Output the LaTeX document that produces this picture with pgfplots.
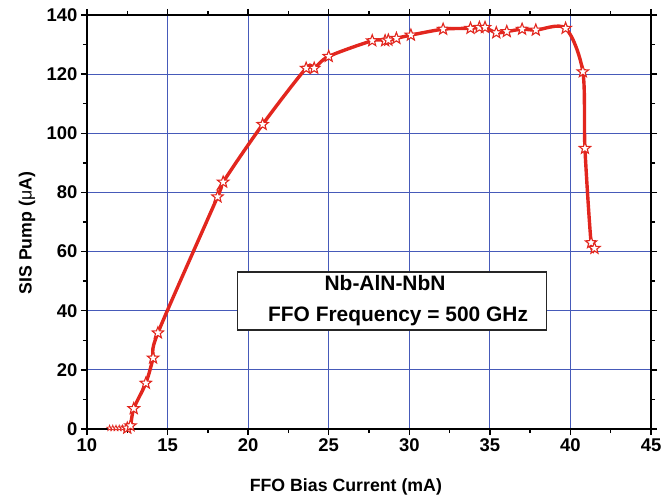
\documentclass[border=0pt]{standalone}
\usepackage{fontspec}
\setmainfont{Liberation Sans}
\usepackage{pgfplots}
\pgfplotsset{compat=1.18}
\definecolor{gridblue}{RGB}{70,90,185}
\definecolor{curvered}{RGB}{226,38,30}
\pgfdeclareplotmark{ostar}{%
  \pgfpathmoveto{\pgfpointpolar{90}{\pgfplotmarksize}}%
  \pgfpathlineto{\pgfpointpolar{126}{0.42*\pgfplotmarksize}}%
  \pgfpathlineto{\pgfpointpolar{162}{\pgfplotmarksize}}%
  \pgfpathlineto{\pgfpointpolar{198}{0.42*\pgfplotmarksize}}%
  \pgfpathlineto{\pgfpointpolar{234}{\pgfplotmarksize}}%
  \pgfpathlineto{\pgfpointpolar{270}{0.42*\pgfplotmarksize}}%
  \pgfpathlineto{\pgfpointpolar{306}{\pgfplotmarksize}}%
  \pgfpathlineto{\pgfpointpolar{342}{0.42*\pgfplotmarksize}}%
  \pgfpathlineto{\pgfpointpolar{18}{\pgfplotmarksize}}%
  \pgfpathlineto{\pgfpointpolar{54}{0.42*\pgfplotmarksize}}%
  \pgfpathclose
  \pgfusepathqfillstroke}
\pgfplotstableread{
x y
12.5 0.3
12.7 1.1
12.9 6.9
13.65 15.5
14.1 24
14.4 32.5
18.1 78.5
18.45 83.5
20.9 103
23.6 122
24.1 122
25.0 126
27.7 131.3
28.5 131.3
28.7 131.5
29.2 132.1
30.1 133.2
32.1 135.2
33.8 135.5
34.35 135.8
34.7 135.8
35.4 134
36.05 134.4
37.0 135.2
37.85 134.9
39.7 135.5
40.77 120.8
40.9 94.9
41.28 63
41.49 61.1
}\maintable
\pgfplotstableread{
x y
11.4 0.3
11.6 0.3
11.8 0.3
12.0 0.3
12.2 0.3
12.4 0.3
}\basetable
\begin{document}
\begin{tikzpicture}
\path[use as bounding box] (0,0) rectangle (662bp,504bp);
\begin{axis}[
  at={(87bp,75bp)}, anchor=south west,
  scale only axis, width=564bp, height=414bp,
  xmin=10, xmax=45, ymin=0, ymax=140,
  xtick distance=5, ytick distance=20,
  minor x tick num=1, minor y tick num=1,
  tick align=outside,
  major tick length=6bp, minor tick length=4bp,
  every tick/.style={black, line width=1.3bp},
  axis line style={black, line width=1.6bp},
  grid=major,
  major grid style={gridblue, line width=1bp},
  /pgf/number format/assume math mode=true,
  tick label style={font=\fontsize{18.5}{20}\selectfont\bfseries},
  label style={font=\fontsize{17.8}{20}\selectfont\bfseries},
  xlabel={FFO Bias Current (mA)},
  ylabel={SIS Pump ({\mdseries μ}A)},
  xlabel style={at={(axis description cs:0.459,-0.14)}, anchor=center},
  ylabel style={at={(axis description cs:-0.1064,0.473)}, anchor=center},
]
\addplot[curvered, line width=1.2bp, mark=ostar, mark size=3bp,
  mark options={fill=white, draw=curvered, line width=0.7bp}] table {\basetable};
\addplot[curvered, line width=3.4bp, smooth, tension=0.5, mark=ostar, mark size=6bp,
  mark options={fill=white, draw=curvered, line width=1.1bp}] table {\maintable};
\node[draw=black!85, line width=1.4bp, fill=white, minimum width=309bp, minimum height=58bp,
  align=center, font=\fontsize{21}{31}\selectfont\bfseries, inner sep=0pt]
  at (axis cs:28.93,43.3) {\hspace*{-14bp}Nb-AlN-NbN\\\hspace*{12bp}FFO Frequency = 500 GHz};
\end{axis}
\end{tikzpicture}
\end{document}
